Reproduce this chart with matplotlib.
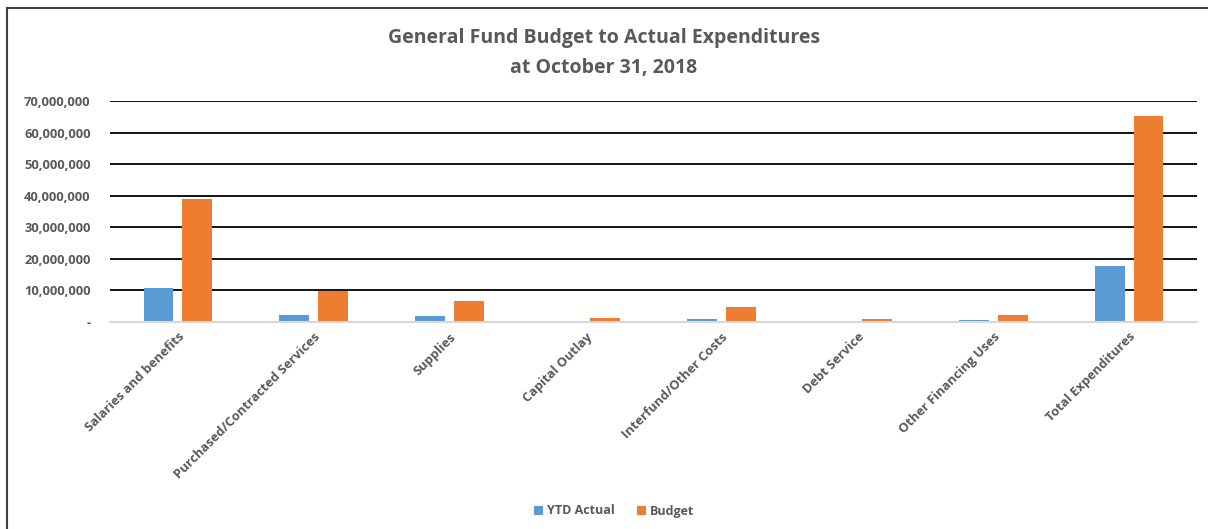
import matplotlib.pyplot as plt
import matplotlib.ticker as mticker
import numpy as np
from matplotlib.lines import Line2D

categorias = ["Salaries and benefits", "Purchased/Contracted Services", "Supplies",
              "Capital Outlay", "Interfund/Other Costs", "Debt Service",
              "Other Financing Uses", "Total Expenditures"]
ytd_actual = [10800000, 2300000, 1900000, 300000, 1000000, 300000, 700000, 17700000]
budget = [39000000, 9800000, 6500000, 1300000, 4900000, 900000, 2200000, 65400000]

plt.rcParams['font.family'] = ['Open Sans', 'DejaVu Sans']
cinza = "#595959"
azul = "#5B9BD5"
laranja = "#ED7D31"

fig = plt.figure(figsize=(12.08, 5.29), dpi=100)
ax = fig.add_axes([110/1208, 1 - 322/529, (1197-110)/1208, (322-101)/529])

x = np.arange(len(categorias))
largura = 0.22
ax.bar(x - 0.143, ytd_actual, largura, color=azul, label="YTD Actual", zorder=3)
ax.bar(x + 0.143, budget, largura, color=laranja, label="Budget", zorder=3)

ax.set_xlim(-0.5, len(categorias) - 0.5)
ax.set_ylim(0, 70000000)
ax.set_yticks(np.arange(0, 70000001, 10000000))
ax.yaxis.set_major_formatter(mticker.FuncFormatter(lambda v, p: "-" if v == 0 else f"{v:,.0f}"))
ax.grid(axis="y", color="black", linewidth=1.3, zorder=0)
ax.set_axisbelow(True)

for s in ["top", "right", "left"]:
    ax.spines[s].set_visible(False)
ax.spines["bottom"].set_color("#D9D9D9")
ax.spines["bottom"].set_linewidth(1.5)
ax.spines["bottom"].set_zorder(4)
ax.tick_params(axis="both", length=0, colors=cinza)
ax.tick_params(axis="y", pad=14)
ax.tick_params(axis="x", pad=6)

ax.set_xticks(x)
ax.set_xticklabels(categorias, rotation=45, ha="right", rotation_mode="anchor",
                   fontsize=9.3, fontweight="bold", color=cinza)
for t in ax.get_yticklabels():
    t.set_fontsize(9.3)
    t.set_fontweight("bold")
    t.set_color(cinza)

fig.text(0.5, 1 - 53/529, "General Fund Budget to Actual Expenditures\nat October 31, 2018",
         ha="center", va="center", fontsize=14, fontweight="bold", color=cinza,
         linespacing=1.6)

leg = fig.legend(loc="center", bbox_to_anchor=(614/1208, 1 - 511/529), ncol=2, frameon=False,
                 fontsize=9, handlelength=0.7, handleheight=0.7, handletextpad=0.3,
                 columnspacing=1.8)
for t in leg.get_texts():
    t.set_fontweight("bold")
    t.set_color(cinza)

# moldura
fig.add_artist(Line2D([7/1208, 1], [1 - 8/529, 1 - 8/529], color="#404040", linewidth=1.5))
fig.add_artist(Line2D([7/1208, 7/1208], [0, 1 - 8/529], color="#404040", linewidth=1.5))

fig.savefig("out.png", dpi=100)
